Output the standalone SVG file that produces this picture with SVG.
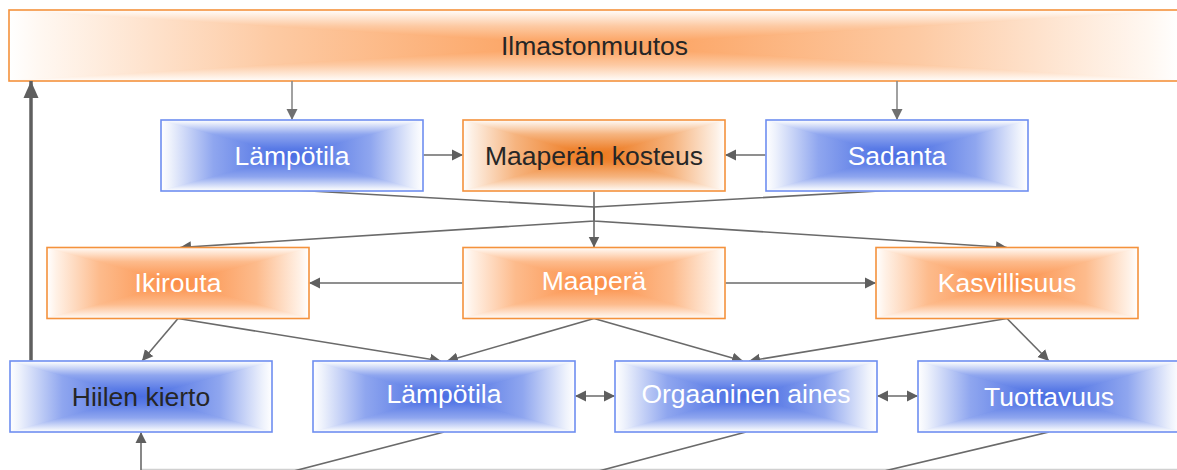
<svg xmlns="http://www.w3.org/2000/svg" width="1177" height="470" viewBox="0 0 1177 470">
<style>
.t{font-family:"Liberation Sans",Arial,sans-serif;font-size:26.5px;text-anchor:middle}
.w{fill:#ffffff}
.d{fill:#262626}
.c{fill:none;stroke:#6a6a6a;stroke-width:1.6}
.cl{fill:none;stroke:#8a8a8a;stroke-width:1.6}
.bb{fill:none;stroke:#6e8ef0;stroke-width:1.6}
.bo{fill:none;stroke:#f4923c;stroke-width:1.6}
polygon{stroke-width:1.2;stroke-linejoin:round}
</style>
<defs>
<marker id="ah" markerUnits="userSpaceOnUse" markerWidth="12" markerHeight="12" refX="11" refY="6" orient="auto-start-reverse" viewBox="0 0 12 12"><path d="M0,0.5 L11,6 L0,11.5 z" fill="#5f5f5f"/></marker>
<marker id="ahl" markerUnits="userSpaceOnUse" markerWidth="12" markerHeight="12" refX="11" refY="6" orient="auto" viewBox="0 0 12 12"><path d="M0,0.5 L11,6 L0,11.5 z" fill="#707070"/></marker>
<marker id="ahb" markerUnits="userSpaceOnUse" markerWidth="18" markerHeight="18" refX="17" refY="9" orient="auto" viewBox="0 0 18 18"><path d="M0,1.5 L17,9 L0,16.5 z" fill="#5f5f5f"/></marker>

<linearGradient id="sB"><stop offset="0" stop-color="#ffffff"/><stop offset="0.07" stop-color="#eef2fc"/><stop offset="0.4" stop-color="#8fa6ef"/><stop offset="0.8" stop-color="#5a7be6"/><stop offset="1" stop-color="#4a6de3"/></linearGradient>
<linearGradient id="sO"><stop offset="0" stop-color="#ffffff"/><stop offset="0.07" stop-color="#fff1e6"/><stop offset="0.4" stop-color="#fdbb8c"/><stop offset="0.8" stop-color="#fc9b5a"/><stop offset="1" stop-color="#fb8c45"/></linearGradient>
<linearGradient id="sK"><stop offset="0" stop-color="#ffffff"/><stop offset="0.07" stop-color="#fdefe3"/><stop offset="0.4" stop-color="#f6b47f"/><stop offset="0.8" stop-color="#ef8634"/><stop offset="1" stop-color="#ec7619"/></linearGradient>
<linearGradient id="sI"><stop offset="0" stop-color="#ffffff"/><stop offset="0.05" stop-color="#fff8f2"/><stop offset="0.45" stop-color="#fdcaa3"/><stop offset="0.85" stop-color="#fca86a"/><stop offset="1" stop-color="#fc9f5c"/></linearGradient>

<linearGradient id="bD" href="#sB" x1="0" y1="0" x2="0" y2="1"/>
<linearGradient id="bU" href="#sB" x1="0" y1="1" x2="0" y2="0"/>
<linearGradient id="bR" href="#sB" x1="0" y1="0" x2="1" y2="0"/>
<linearGradient id="bL" href="#sB" x1="1" y1="0" x2="0" y2="0"/>
<linearGradient id="oD" href="#sO" x1="0" y1="0" x2="0" y2="1"/>
<linearGradient id="oU" href="#sO" x1="0" y1="1" x2="0" y2="0"/>
<linearGradient id="oR" href="#sO" x1="0" y1="0" x2="1" y2="0"/>
<linearGradient id="oL" href="#sO" x1="1" y1="0" x2="0" y2="0"/>
<linearGradient id="kD" href="#sK" x1="0" y1="0" x2="0" y2="1"/>
<linearGradient id="kU" href="#sK" x1="0" y1="1" x2="0" y2="0"/>
<linearGradient id="kR" href="#sK" x1="0" y1="0" x2="1" y2="0"/>
<linearGradient id="kL" href="#sK" x1="1" y1="0" x2="0" y2="0"/>
<linearGradient id="iD" href="#sI" x1="0" y1="0" x2="0" y2="1"/>
<linearGradient id="iU" href="#sI" x1="0" y1="1" x2="0" y2="0"/>
<linearGradient id="iR" href="#sI" x1="0" y1="0" x2="1" y2="0"/>
<linearGradient id="iL" href="#sI" x1="1" y1="0" x2="0" y2="0"/>

<g id="boxB">
<polygon points="0,0 0,71 131,35.5" fill="url(#bR)" stroke="url(#bR)"/>
<polygon points="262,0 262,71 131,35.5" fill="url(#bL)" stroke="url(#bL)"/>
<polygon points="0,0 262,0 131,35.5" fill="url(#bD)" stroke="url(#bD)"/>
<polygon points="0,71 262,71 131,35.5" fill="url(#bU)" stroke="url(#bU)"/>
<rect x="0" y="0" width="262" height="71" class="bb"/>
</g>
<g id="boxO">
<polygon points="0,0 0,71 131,35.5" fill="url(#oR)" stroke="url(#oR)"/>
<polygon points="262,0 262,71 131,35.5" fill="url(#oL)" stroke="url(#oL)"/>
<polygon points="0,0 262,0 131,35.5" fill="url(#oD)" stroke="url(#oD)"/>
<polygon points="0,71 262,71 131,35.5" fill="url(#oU)" stroke="url(#oU)"/>
<rect x="0" y="0" width="262" height="71" class="bo"/>
</g>
<g id="boxK">
<polygon points="0,0 0,71 131,35.5" fill="url(#kR)" stroke="url(#kR)"/>
<polygon points="262,0 262,71 131,35.5" fill="url(#kL)" stroke="url(#kL)"/>
<polygon points="0,0 262,0 131,35.5" fill="url(#kD)" stroke="url(#kD)"/>
<polygon points="0,71 262,71 131,35.5" fill="url(#kU)" stroke="url(#kU)"/>
<rect x="0" y="0" width="262" height="71" class="bo"/>
</g>
</defs>

<rect width="1177" height="470" fill="#ffffff"/>

<g id="n-ilmastonmuutos" transform="translate(9,10)">
<polygon points="0,0 0,71 585.5,35.5" fill="url(#iR)" stroke="url(#iR)"/>
<polygon points="1171,0 1171,71 585.5,35.5" fill="url(#iL)" stroke="url(#iL)"/>
<polygon points="0,0 1171,0 585.5,35.5" fill="url(#iD)" stroke="url(#iD)"/>
<polygon points="0,71 1171,71 585.5,35.5" fill="url(#iU)" stroke="url(#iU)"/>
<rect x="0" y="0" width="1171" height="71" class="bo"/>
<text class="t d" x="585.5" y="45">Ilmastonmuutos</text>
</g>

<g id="connectors">
<path class="cl" d="M292,81 V120" marker-end="url(#ahl)"/>
<path class="cl" d="M897,81 V120" marker-end="url(#ahl)"/>
<path class="c" d="M423,155 H463" marker-end="url(#ah)"/>
<path class="c" d="M766,155 H725" marker-end="url(#ah)"/>
<path class="c" d="M594,190 V247.5" marker-end="url(#ah)"/>
<path class="c" d="M292,190 L594,207 L594,221 L1007,247.5" marker-end="url(#ah)"/>
<path class="c" d="M897,190 L594,207 L594,221 L180,247.5" marker-end="url(#ah)"/>
<path class="c" d="M463,283 H309" marker-end="url(#ah)"/>
<path class="c" d="M725,283 H876" marker-end="url(#ah)"/>
<path class="c" d="M178,318.5 L142,361" marker-end="url(#ah)"/>
<path class="c" d="M178,318.5 L441,361" marker-end="url(#ah)"/>
<path class="c" d="M594,318.5 L447,361" marker-end="url(#ah)"/>
<path class="c" d="M594,318.5 L743,361" marker-end="url(#ah)"/>
<path class="c" d="M1007,318.5 L749,361" marker-end="url(#ah)"/>
<path class="c" d="M1007,318.5 L1049,361" marker-end="url(#ah)"/>
<path class="c" d="M575,396 H615" marker-start="url(#ah)" marker-end="url(#ah)"/>
<path class="c" d="M877,396 H918" marker-start="url(#ah)" marker-end="url(#ah)"/>
<path d="M31,361 V81" fill="none" stroke="#5f5f5f" stroke-width="3.5" marker-end="url(#ahb)"/>
<path d="M141,469.5 H1177" fill="none" stroke="#d0d0d0" stroke-width="1.5"/>
<path class="c" d="M141,471 V432" marker-end="url(#ah)"/>
<path class="c" d="M444,432 L290,472"/>
<path class="c" d="M746,432 L595,472"/>
<path class="c" d="M1049,432 L880,472"/>
</g>

<g id="n-lampotila1" transform="translate(161,120)"><use href="#boxB"/><text class="t w" x="131" y="44.5">Lämpötila</text></g>
<g id="n-kosteus" transform="translate(463,120)"><use href="#boxK"/><text class="t d" x="131" y="44.5">Maaperän kosteus</text></g>
<g id="n-sadanta" transform="translate(766,120)"><use href="#boxB"/><text class="t w" x="131" y="44.5">Sadanta</text></g>

<g id="n-ikirouta" transform="translate(47,247.5)"><use href="#boxO"/><text class="t w" x="131" y="44.5">Ikirouta</text></g>
<g id="n-maapera" transform="translate(463,247.5)"><use href="#boxO"/><text class="t w" x="131" y="42">Maaperä</text></g>
<g id="n-kasvillisuus" transform="translate(876,247.5)"><use href="#boxO"/><text class="t w" x="131" y="44.5">Kasvillisuus</text></g>

<g id="n-hiilen" transform="translate(10,361)"><use href="#boxB"/><text class="t d" x="131" y="45">Hiilen kierto</text></g>
<g id="n-lampotila2" transform="translate(313,361)"><use href="#boxB"/><text class="t w" x="131" y="42">Lämpötila</text></g>
<g id="n-orgaaninen" transform="translate(615,361)"><use href="#boxB"/><text class="t w" x="131" y="42">Orgaaninen aines</text></g>
<g id="n-tuottavuus" transform="translate(918,361)"><use href="#boxB"/><text class="t w" x="131" y="45">Tuottavuus</text></g>
</svg>
